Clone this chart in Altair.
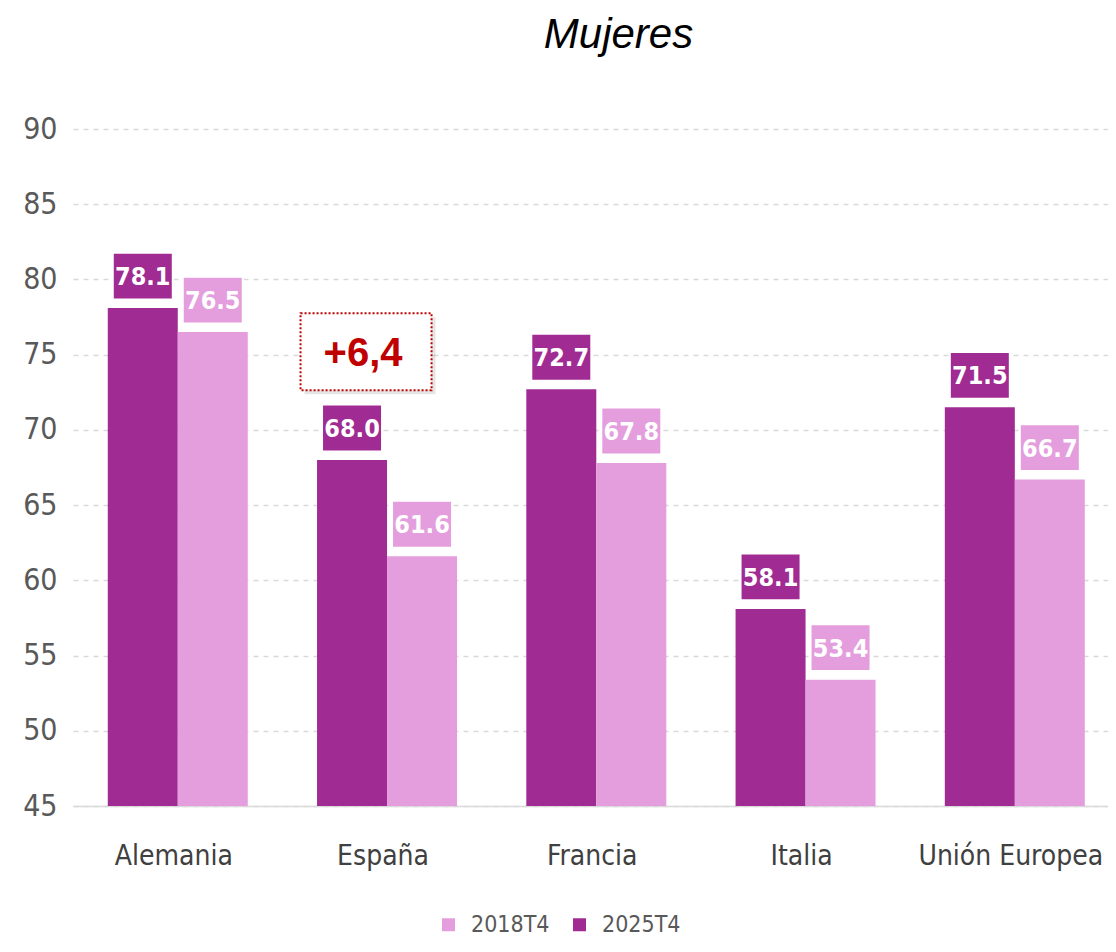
import altair as alt
import pandas as pd

countries = ["Alemania", "España", "Francia", "Italia", "Unión Europea"]
v2025 = [78.1, 68.0, 72.7, 58.1, 71.5]
v2018 = [76.5, 61.6, 67.8, 53.4, 66.7]
series = ["2018T4", "2025T4"]
colors = ["#E49EDD", "#A02B93"]
y_ticks = [45, 50, 55, 60, 65, 70, 75, 80, 85, 90]
annot_country = ["España"]
annot_text = ["+6,4"]
annot_y = [75.2]

rows = []
for c, a, b in zip(countries, v2025, v2018):
    rows.append({"pais": c, "serie": "2025T4", "valor": a})
    rows.append({"pais": c, "serie": "2018T4", "valor": b})
df = pd.DataFrame(rows)
ann = pd.DataFrame({"pais": annot_country, "txt": annot_text, "y": annot_y})
cats = pd.DataFrame({"pais": countries})

NARROW = "DejaVu Sans Condensed, Liberation Sans, sans-serif"

x_enc = alt.X("pais:N", sort=countries, title=None,
              scale=alt.Scale(paddingInner=0.331, paddingOuter=0.1385, align=0.6),
              axis=alt.Axis(labels=False, ticks=False,
                            domainColor="#D9D9D9", domainWidth=1.5))
y_scale = alt.Scale(domain=[45, 90], zero=False, nice=False)
y_enc = alt.Y("valor:Q", scale=y_scale, title=None,
              axis=alt.Axis(values=y_ticks, labelFont=NARROW, labelFontSize=30,
                            labelColor="#595959", labelPadding=16, ticks=False,
                            domain=False, gridColor="#D9D9D9", gridDash=[5, 5],
                            gridWidth=1.5))
xoff = alt.XOffset("serie:N", sort=["2025T4", "2018T4"], scale=alt.Scale(paddingInner=0))
color = alt.Color("serie:N", scale=alt.Scale(domain=series, range=colors),
                  legend=alt.Legend(title=None, orient="none", direction="horizontal",
                                    legendX=364, legendY=784, symbolType="square",
                                    symbolSize=169, symbolStrokeWidth=0,
                                    labelFont=NARROW, labelFontSize=23,
                                    labelColor="#595959", labelOffset=11,
                                    columnPadding=18))

base = alt.Chart(df)
bars = base.mark_bar().encode(x=x_enc, xOffset=xoff, y=y_enc, y2=alt.Y2Datum(45), color=color)

box_path = "M-1,-0.78L1,-0.78L1,0.78L-1,0.78Z"
boxes = base.mark_point(shape=box_path, size=3600, filled=True, opacity=1,
                        stroke="white", strokeWidth=2, yOffset=-32).encode(
    x=alt.X("pais:N", sort=countries), xOffset=xoff, y=alt.Y("valor:Q", scale=y_scale),
    fill=alt.Fill("serie:N", scale=alt.Scale(domain=series, range=colors), legend=None))
labels = base.mark_text(font=NARROW, fontSize=25, fontWeight="bold", color="white",
                        baseline="middle", yOffset=-31).encode(
    x=alt.X("pais:N", sort=countries), xOffset=xoff, y=alt.Y("valor:Q", scale=y_scale),
    text=alt.Text("valor:Q", format=".1f"))

cat_labels = alt.Chart(cats).mark_text(font=NARROW, fontSize=28, color="#404040",
                                       baseline="top", yOffset=37, xOffset=-4).encode(
    x=alt.X("pais:N", sort=countries), y=alt.YDatum(45, scale=y_scale), text="pais:N")

ann_path = "M-1,-0.588L1,-0.588L1,0.588L-1,0.588Z"
abase = alt.Chart(ann)
ann_shadow = abase.mark_point(shape=ann_path, size=17161,
                              filled=True, color="#000000", opacity=0.10,
                              xOffset=-17, yOffset=4).encode(
    x=alt.X("pais:N", sort=countries), y=alt.Y("y:Q", scale=y_scale))
ann_box = abase.mark_point(shape=ann_path, size=17161,
                           filled=True, fill="white", stroke="#C00000", strokeWidth=2,
                           strokeDash=[2, 2], opacity=1, xOffset=-21).encode(
    x=alt.X("pais:N", sort=countries), y=alt.Y("y:Q", scale=y_scale))
ann_txt = abase.mark_text(font="Liberation Sans", fontSize=40, fontWeight="bold",
                          color="#C00000", baseline="middle", xOffset=-24, yOffset=2).encode(
    x=alt.X("pais:N", sort=countries), y=alt.Y("y:Q", scale=y_scale), text="txt:N")

chart = alt.layer(bars, boxes, labels, cat_labels, ann_shadow, ann_box, ann_txt).properties(
    width=1035, height=677,
    autosize=alt.AutoSizeParams(type="none"),
    padding={"left": 65, "top": 121, "right": 0, "bottom": 133},
    title=alt.TitleParams("Mujeres", font="Liberation Sans", fontSize=42,
                          fontStyle="italic", fontWeight="normal", color="#000000",
                          anchor="middle", dx=28, offset=57),
).resolve_scale(fill="independent").configure_view(stroke=None)

chart.save("out.html", embed_options={"renderer": "svg", "actions": False})
